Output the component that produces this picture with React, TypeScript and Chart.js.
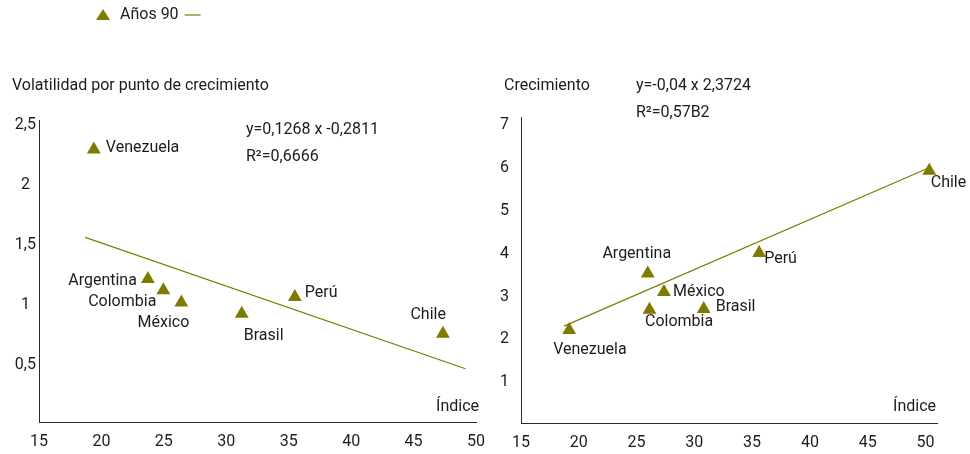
import React, { useEffect, useRef } from "react";
import { Chart, registerables } from "chart.js";

Chart.register(...registerables);

const OLIVE = "#7f7b00";
const INK = "#1c1c1c";
const AXIS = "#2a2a2a";
const FONT = "Roboto, 'Noto Sans', sans-serif";
const TEXT_SIZE = 16;

// Países (mismo orden en ambos gráficos)
const countries = ["Venezuela", "Argentina", "Colombia", "México", "Brasil", "Perú", "Chile"];
const seriesLabel = "Años 90";

// Volatilidad por punto de crecimiento frente al índice
const volatilityIndex = [19.39, 23.72, 24.96, 26.4, 31.24, 35.49, 47.35];
const volatilityValues = [2.295, 1.216, 1.122, 1.02, 0.927, 1.066, 0.76];
const volatilityTrendX = [18.7, 49.16];
const volatilityTrendY = [1.562, 0.468];
const volatilityTicks = [0.5, 1, 1.5, 2, 2.5];
const volatilityEquation = ["y=0,1268 x -0,2811", "R²=0,6666"];

// Crecimiento frente al índice
const growthIndex = [19.17, 25.97, 26.12, 27.37, 30.81, 35.61, 50.33];
const growthValues = [2.22, 3.54, 2.69, 3.11, 2.71, 4.02, 5.94];
const growthTrendX = [18.72, 50.22];
const growthTrendY = [2.31, 6.0];
const growthTicks = [1, 2, 3, 4, 5, 6, 7];
const growthEquation = ["y=-0,04 x 2,3724", "R²=0,57B2"];

const indexTicks = [15, 20, 25, 30, 35, 40, 45, 50];

type Place = { dx: number; dy: number; align: CanvasTextAlign };
type Caption = { text: string; x: number; y: number; align: CanvasTextAlign };

// Where each country name sits relative to its marker
const volatilityLabelPlaces: Place[] = [
  { dx: 12, dy: -1.5, align: "left" },
  { dx: -11, dy: 2.5, align: "right" },
  { dx: -7, dy: 12, align: "right" },
  { dx: 8, dy: 20, align: "right" },
  { dx: 2, dy: 22, align: "left" },
  { dx: 10, dy: -3.5, align: "left" },
  { dx: 3, dy: -18.5, align: "right" },
];
const growthLabelPlaces: Place[] = [
  { dx: -16, dy: 20, align: "left" },
  { dx: -11, dy: -19, align: "center" },
  { dx: -4.5, dy: 12, align: "left" },
  { dx: 9, dy: 0, align: "left" },
  { dx: 12, dy: -2.5, align: "left" },
  { dx: 5, dy: 6, align: "left" },
  { dx: 1.5, dy: 12, align: "left" },
];

const pointLabels = {
  id: "pointLabels",
  afterDatasetsDraw(chart: any, _args: any, opts: any) {
    const meta = chart.getDatasetMeta(0);
    const ctx: CanvasRenderingContext2D = chart.ctx;
    ctx.save();
    ctx.font = `${TEXT_SIZE}px ${FONT}`;
    ctx.fillStyle = INK;
    ctx.textBaseline = "middle";
    meta.data.forEach((el: any, i: number) => {
      const p: Place = opts.places[i];
      ctx.textAlign = p.align;
      ctx.fillText(opts.labels[i], el.x + p.dx, el.y + p.dy);
    });
    ctx.restore();
  },
};

const captions = {
  id: "captions",
  afterDraw(chart: any, _args: any, opts: any) {
    const ctx: CanvasRenderingContext2D = chart.ctx;
    ctx.save();
    ctx.font = `${TEXT_SIZE}px ${FONT}`;
    ctx.fillStyle = INK;
    ctx.textBaseline = "middle";
    (opts.items as Caption[]).forEach((c) => {
      ctx.textAlign = c.align;
      ctx.fillText(c.text, c.x, c.y);
    });
    if (opts.legend) {
      const { x, y } = opts.legend;
      ctx.fillStyle = OLIVE;
      ctx.beginPath();
      ctx.moveTo(x, y - 6);
      ctx.lineTo(x + 7, y + 5);
      ctx.lineTo(x - 7, y + 5);
      ctx.closePath();
      ctx.fill();
      ctx.fillStyle = INK;
      ctx.textAlign = "left";
      ctx.fillText(seriesLabel, x + 17, y);
      const w = ctx.measureText(seriesLabel).width;
      ctx.strokeStyle = OLIVE;
      ctx.lineWidth = 1.2;
      ctx.beginPath();
      ctx.moveTo(x + 17 + w + 6, y);
      ctx.lineTo(x + 17 + w + 22, y);
      ctx.stroke();
    }
    ctx.restore();
  },
};

type PanelProps = {
  left: number;
  width: number;
  xs: number[];
  ys: number[];
  trendX: number[];
  trendY: number[];
  yTicks: number[];
  xMin: number;
  xMax: number;
  yMin: number;
  yMax: number;
  yWidth: number;
  yPad: number;
  padRight: number;
  padTop: number;
  xHeight: number;
  places: Place[];
  items: Caption[];
  legend?: { x: number; y: number };
};

function Panel(p: PanelProps) {
  const ref = useRef<HTMLCanvasElement | null>(null);

  useEffect(() => {
    if (!ref.current) return;
    const tickFont = { family: FONT, size: TEXT_SIZE };
    const chart = new Chart(ref.current, {
      type: "scatter",
      data: {
        datasets: [
          {
            label: seriesLabel,
            data: p.xs.map((x, i) => ({ x, y: p.ys[i] })),
            pointStyle: "triangle",
            pointRadius: 8,
            backgroundColor: OLIVE,
            borderWidth: 0,
          },
          {
            label: "tendencia",
            data: p.trendX.map((x, i) => ({ x, y: p.trendY[i] })),
            showLine: true,
            borderColor: OLIVE,
            borderWidth: 1.2,
            pointRadius: 0,
          },
        ],
      },
      options: {
        responsive: false,
        devicePixelRatio: 1,
        animation: false,
        layout: { padding: { left: 0, right: p.padRight, top: p.padTop, bottom: 0 } },
        plugins: {
          legend: { display: false },
          tooltip: { enabled: false },
          pointLabels: { labels: countries, places: p.places },
          captions: { items: p.items, legend: p.legend },
        } as any,
        scales: {
          x: {
            type: "linear",
            min: p.xMin,
            max: p.xMax,
            afterBuildTicks: (s: any) => {
              s.ticks = indexTicks.map((value) => ({ value }));
            },
            afterFit: (s: any) => {
              s.height = p.xHeight;
              s.paddingLeft = 0;
              s.paddingRight = 0;
            },
            grid: { display: false, drawTicks: false },
            border: { display: true, color: AXIS, width: 1 },
            ticks: { color: INK, font: tickFont, padding: 10, maxRotation: 0, autoSkip: false },
          },
          y: {
            type: "linear",
            min: p.yMin,
            max: p.yMax,
            afterBuildTicks: (s: any) => {
              s.ticks = p.yTicks.map((value) => ({ value }));
            },
            afterFit: (s: any) => {
              s.width = p.yWidth;
              s.paddingTop = 0;
              s.paddingBottom = 0;
            },
            grid: { display: false, drawTicks: false },
            border: { display: true, color: AXIS, width: 1 },
            ticks: {
              color: INK,
              font: tickFont,
              padding: p.yPad,
              crossAlign: "center",
              autoSkip: false,
              callback: (v: any) => String(v).replace(".", ","),
            },
          },
        },
      },
      plugins: [pointLabels, captions],
    });
    return () => chart.destroy();
  }, []);

  return (
    <canvas
      ref={ref}
      width={p.width}
      height={454}
      style={{ position: "absolute", left: p.left, top: 0 }}
    />
  );
}

export default function App() {
  return (
    <div style={{ position: "fixed", left: 0, top: 0, width: 970, height: 454, background: "#fff" }}>
      <Panel
        left={0}
        width={490}
        xs={volatilityIndex}
        ys={volatilityValues}
        trendX={volatilityTrendX}
        trendY={volatilityTrendY}
        yTicks={volatilityTicks}
        xMin={15}
        xMax={50}
        yMin={0.025}
        yMax={2.54}
        yWidth={39}
        yPad={3}
        padRight={14}
        padTop={120}
        xHeight={32}
        places={volatilityLabelPlaces}
        legend={{ x: 103, y: 15 }}
        items={[
          { text: "Volatilidad por punto de crecimiento", x: 12, y: 86, align: "left" },
          { text: volatilityEquation[0], x: 246, y: 130, align: "left" },
          { text: volatilityEquation[1], x: 246, y: 157, align: "left" },
          { text: "Índice", x: 479, y: 407, align: "right" },
        ]}
      />
      <Panel
        left={490}
        width={480}
        xs={growthIndex}
        ys={growthValues}
        trendX={growthTrendX}
        trendY={growthTrendY}
        yTicks={growthTicks}
        xMin={15}
        xMax={51}
        yMin={0.047}
        yMax={7.196}
        yWidth={31}
        yPad={12}
        padRight={33}
        padTop={117}
        xHeight={31}
        places={growthLabelPlaces}
        items={[
          { text: "Crecimiento", x: 14, y: 86, align: "left" },
          { text: growthEquation[0], x: 146, y: 86, align: "left" },
          { text: growthEquation[1], x: 146, y: 113, align: "left" },
          { text: "Índice", x: 446, y: 407, align: "right" },
        ]}
      />
    </div>
  );
}
